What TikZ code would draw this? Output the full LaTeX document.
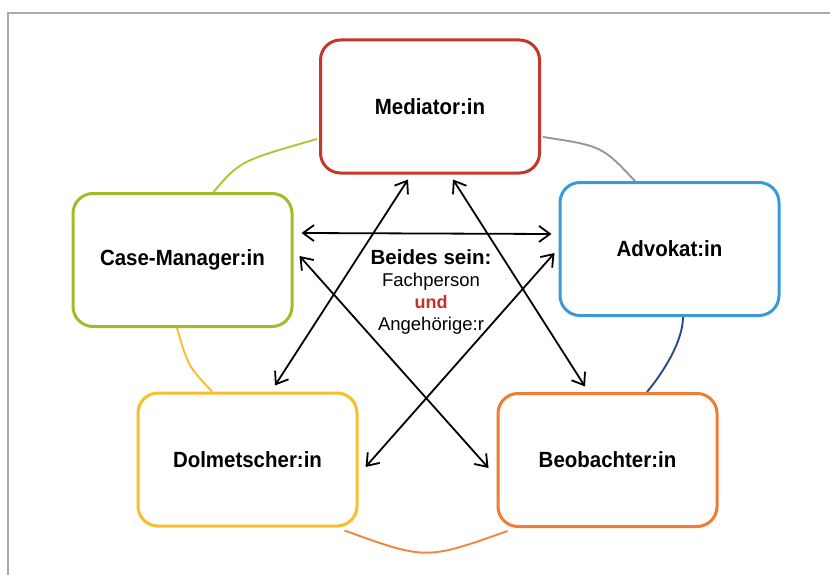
\documentclass[tikz,border=0pt]{standalone}
\usepackage{fontspec}
\setmainfont{Liberation Sans}
\newfontfamily\boxfont{Liberation Sans}[FakeStretch=0.93]
\usetikzlibrary{arrows.meta,calc}
\definecolor{medred}{RGB}{198,54,42}
\definecolor{advblue}{RGB}{58,154,215}
\definecolor{cmgreen}{RGB}{164,186,42}
\definecolor{dolyellow}{RGB}{246,190,48}
\definecolor{beoorange}{RGB}{238,124,50}
\definecolor{arcgreen}{RGB}{176,196,56}
\definecolor{arcgray}{RGB}{150,150,150}
\definecolor{arcblue}{RGB}{40,76,136}
\definecolor{arcorange}{RGB}{240,134,60}
\definecolor{arcyellow}{RGB}{244,190,54}
\definecolor{framegray}{RGB}{170,170,170}
\definecolor{undred}{RGB}{198,48,40}
\pgfdeclarelayer{background}
\pgfsetlayers{background,main}
\begin{document}
\begin{tikzpicture}[x=1pt,y=-1pt,
  box/.style={draw, line width=3pt, rounded corners=20pt, fill=white,
    minimum width=219pt, minimum height=133pt, inner sep=0pt,
    font=\boxfont\fontsize{22}{26}\selectfont\bfseries},
  arcline/.style={line width=1.9pt},
  dbl/.style={line width=1.8pt,
    {Straight Barb[length=11pt,width=16pt]}-{Straight Barb[length=11pt,width=16pt]}}]
\useasboundingbox (0,0) rectangle (830,575);
% boxes
\node[box, draw=medred]    (med) at (430,106.5) {Mediator:in};
\node[box, draw=advblue]   (adv) at (669.5,249) {Advokat:in};
\node[box, draw=cmgreen]   (cm)  at (182.5,260) {Case-Manager:in};
\node[box, draw=dolyellow] (dol) at (247.5,459.5) {Dolmetscher:in};
\node[box, draw=beoorange] (beo) at (607.5,460) {Beobachter:in};
% centre text
\node[align=center, font=\fontsize{18.5}{22}\selectfont] (ctr) at (431,292)
  {{\fontsize{20.5}{22}\selectfont\bfseries Beides sein:}\\
   Fachperson\\
   {\fontsize{18}{22}\selectfont\bfseries\color{undred} und}\\
   Angehörige:r};
% background: frame and arcs
\begin{pgfonlayer}{background}
\fill[white] (0,0) rectangle (830,575);
\draw[framegray, line width=2pt] (8,580) -- (8,13) -- (840,13);
\draw[arcline, arcgreen] ($(med.west)+(-2,32.5)$) .. controls (240,161) .. ($(cm.north)+(31,0)$);
\draw[arcline, arcgray] ($(med.east)+(2,30.5)$) .. controls (602,146) .. ($(adv.north)+(-34.5,0)$);
\draw[arcline, arcblue] ($(adv.south)+(13.5,0)$) .. controls (683,342) and (662,374) .. ($(beo.north)+(39.5,0)$);
\draw[arcline, arcorange] ($(dol.south east)+(-14,3)$) .. controls (426,560) .. ($(beo.south west)+(11,3)$);
\draw[arcline, arcyellow] ($(cm.south)+(-5.5,0)$) .. controls (188,366) .. ($(dol.north)+(-35.5,0)$);
\end{pgfonlayer}
% arrows
\draw[dbl] ($(cm.east)+(8,-27)$) -- ($(adv.west)+(-7,-15)$);
\draw[dbl] ($(med.south)+(-22,5)$) -- ($(dol.north)+(27.5,-6)$);
\draw[dbl] ($(med.south)+(23,5)$) -- ($(beo.north)+(-22.5,-5.5)$);
\draw[dbl] ($(cm.east)+(6,-4)$) -- ($(beo.west)+(-8,8)$);
\draw[dbl] ($(adv.west)+(-4,4)$) -- ($(dol.east)+(7,7.5)$);
\end{tikzpicture}
\end{document}
